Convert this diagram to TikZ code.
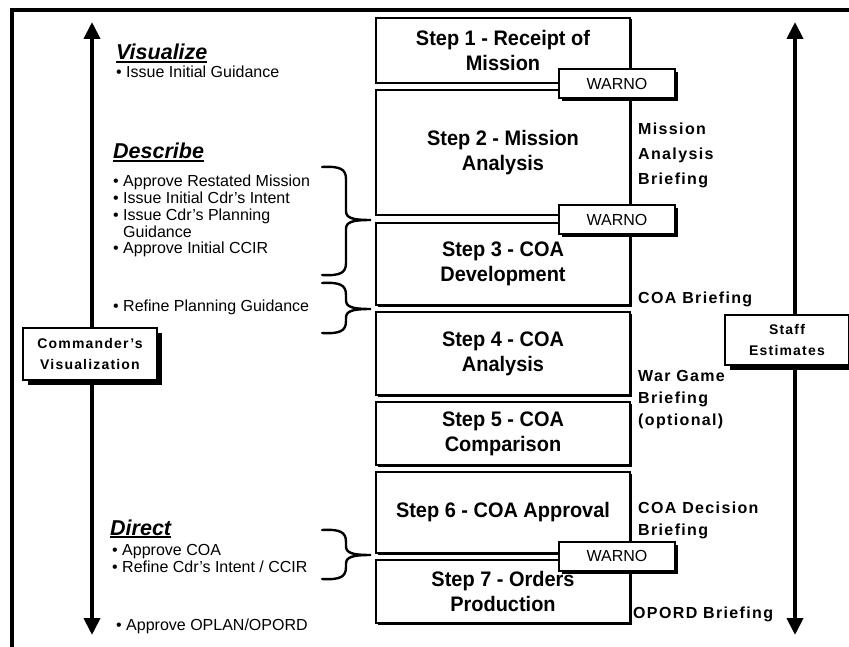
\documentclass[tikz,border=0pt]{standalone}
\usepackage{fontspec}
\setmainfont{Liberation Sans}
\newfontfamily\spacedsans[LetterSpace=8.5]{Liberation Sans}
\newfontfamily\narrowsans[FakeStretch=0.95]{Liberation Sans}
\usetikzlibrary{arrows.meta,shadows}

% type styles
\newcommand\fStep{\narrowsans\fontsize{21}{25}\selectfont\bfseries}
\newcommand\fBullet{\fontsize{16}{17}\selectfont}
\newcommand\fHead{\fontsize{21.5}{24}\selectfont\bfseries\itshape}
\newcommand\fNote{\spacedsans\fontsize{16}{22}\selectfont\bfseries}
\newcommand\fTag{\spacedsans\fontsize{14}{21}\selectfont\bfseries}
\newcommand\fWarno{\fontsize{16}{18}\selectfont}
% heading with a heavy underline
\newcommand\headline[1]{\setbox0\hbox{#1}\rlap{\rule[-3.2pt]{\wd0}{1.8pt}}\box0}
% curly brace: top y, tip y, bottom y
\newcommand\curly[3]{%
  \draw[bracestyle] (322,#1) .. controls (340,#1-1) and (346,#1+2) .. (346,#1+12)
    -- (346,#2-9) .. controls (346,#2-2) and (352,#2) .. (371,#2)
    .. controls (352,#2) and (346,#2+2) .. (346,#2+9)
    -- (346,#3-12) .. controls (346,#3-2) and (340,#3+1) .. (322,#3);}

\begin{document}
\begin{tikzpicture}[x=1pt,y=-1pt,
  stepbox/.style={draw,line width=2.2pt,fill=white,minimum width=254pt,inner sep=0pt,
    align=center,font=\fStep,
    drop shadow={shadow xshift=1.5pt,shadow yshift=-1.5pt,fill=black,opacity=1}},
  warnobox/.style={draw,line width=2pt,fill=white,minimum width=116pt,minimum height=29pt,
    inner sep=0pt,font=\fWarno,
    drop shadow={shadow xshift=3pt,shadow yshift=-3pt,fill=black,opacity=1}},
  tagbox/.style={draw,line width=2pt,fill=white,inner sep=0pt,align=center,font=\fTag,
    drop shadow={shadow xshift=5pt,shadow yshift=-5pt,fill=black,opacity=1}},
  bigarrow/.style={line width=4pt,-{Triangle[width=16pt,length=17pt]}},
  bullet/.style={anchor=base west,inner sep=0pt,font=\fBullet},
  head/.style={anchor=base west,inner sep=0pt,font=\fHead},
  note/.style={anchor=base west,inner sep=0pt,align=left,font=\fNote},
  bracestyle/.style={line width=2.4pt,line cap=round}]
\useasboundingbox (0,0) rectangle (849,647);
\fill[white] (0,0) rectangle (849,647);

% outer frame (left and top edges)
\draw[line width=4pt] (12,647) -- (12,10) -- (849,10);

% the seven steps
\node[stepbox,minimum height=65pt]  (s1) at (503,50.5)  {Step 1 - Receipt of\\Mission};
\node[stepbox,minimum height=125pt] (s2) at (503,152.5) {Step 2 - Mission\\Analysis};
\node[stepbox,minimum height=82pt]  (s3) at (503,264)   {Step 3 - COA\\Development};
\node[stepbox,minimum height=83pt]  (s4) at (503,353.5) {Step 4 - COA\\Analysis};
\node[stepbox,minimum height=63pt]  (s5) at (503,433.5) {Step 5 - COA\\Comparison};
\node[stepbox,minimum height=81pt]  (s6) at (503,512.5) {Step 6 - COA Approval};
\node[stepbox,minimum height=63pt]  (s7) at (503,591.5) {Step 7 - Orders\\Production};

% warning orders
\node[warnobox] (w1) at (617,84)  {WARNO};
\node[warnobox] (w2) at (617,220) {WARNO};
\node[warnobox] (w3) at (617,556) {WARNO};

% commander's and staff axes
\node[tagbox,minimum width=134pt,minimum height=52pt] (cv) at (90,354) {Commander’s\\Visualization};
\node[tagbox,minimum width=124pt,minimum height=50pt] (se) at (787,340) {Staff\\Estimates};
\coordinate (cvtop) at (92,22);
\coordinate (cvbot) at (92,635);
\coordinate (setop) at (795,22);
\coordinate (sebot) at (795,635);
\draw[bigarrow] (cvtop |- cv.north) -- (cvtop);
\draw[bigarrow] (cvbot |- cv.south) -- (cvbot);
\draw[bigarrow] (setop |- se.north) -- (setop);
\draw[bigarrow] (sebot |- se.south) -- (sebot);

% commander's activities
\node[head]   (vis) at (116,60)    {\headline{Visualize}};
\node[bullet] (b0)  at (116,78)    {• Issue Initial Guidance};
\node[head]   (des) at (113,159)   {\headline{Describe}};
\node[bullet] (b1)  at (113,186.8) {• Approve Restated Mission};
\node[bullet] (b2)  at (113,203.6) {• Issue Initial Cdr’s Intent};
\node[bullet] (b3)  at (113,220.4) {• Issue Cdr’s Planning};
\node[bullet] (b4)  at (113,237.2) {\phantom{• }Guidance};
\node[bullet] (b5)  at (113,254)   {• Approve Initial CCIR};
\node[bullet] (b6)  at (113,312)   {• Refine Planning Guidance};
\node[head]   (dir) at (110,535)   {\headline{Direct}};
\node[bullet] (b7)  at (112,555)   {• Approve COA};
\node[bullet] (b8)  at (112,572)   {• Refine Cdr’s Intent / CCIR};
\node[bullet] (b9)  at (116,630)   {• Approve OPLAN/OPORD};

\curly{167}{220}{275}
\curly{283}{309}{333}
\curly{530}{555}{579}

% briefings (anchored on the last line)
\node[note] (n1) at (638,185) {Mission\\[3pt]Analysis\\[3pt]Briefing};
\node[note] (n2) at (638,303) {COA Briefing};
\node[note] (n3) at (638,425) {War Game\\Briefing\\(optional)};
\node[note] (n4) at (638,535) {COA Decision\\Briefing};
\node[note] (n5) at (633,618) {OPORD Briefing};
\end{tikzpicture}
\end{document}
